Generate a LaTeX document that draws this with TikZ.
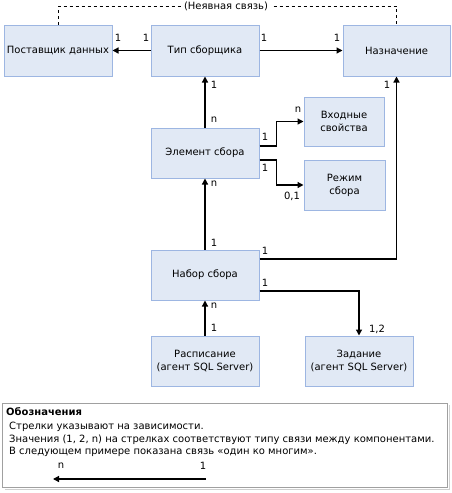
\documentclass[tikz,border=0pt]{standalone}
\usepackage{fontspec}
\setmainfont{DejaVu Sans}
\usetikzlibrary{arrows.meta}
\definecolor{boxfill}{HTML}{E1E9F5}
\definecolor{boxline}{HTML}{9DB6E2}
\definecolor{legline}{HTML}{A0A0A0}
\definecolor{legshadow}{HTML}{D0D0D0}
\tikzset{
  ent/.style={draw=boxline, fill=boxfill, line width=1pt, inner sep=0pt, align=center, font=\fontsize{10}{13}\selectfont},
  arr/.style={line width=1.3pt, -{Triangle[length=6pt,width=6pt]}},
  lbl/.style={inner sep=0pt, font=\fontsize{10}{12}\selectfont},
  legtxt/.style={inner sep=0pt, anchor=west, font=\fontsize{10}{12}\selectfont},
}
\begin{document}
\begin{tikzpicture}[x=1pt,y=-1pt]
\useasboundingbox (0,0) rectangle (451,493);
% boxes
\node[ent, minimum width=108pt, minimum height=51pt] (pd) at (58,50.5) {Поставщик данных};
\node[ent, minimum width=108pt, minimum height=51pt] (ts) at (205,50.5) {Тип сборщика};
\node[ent, minimum width=107pt, minimum height=51pt] (nz) at (396.5,50.5) {Назначение};
\node[ent, minimum width=108pt, minimum height=50pt] (el) at (205,153) {Элемент сбора};
\node[ent, minimum width=80pt, minimum height=49pt] (vs) at (344,121.5) {Входные\\свойства};
\node[ent, minimum width=81pt, minimum height=50pt] (rs) at (344.5,185) {Режим\\сбора};
\node[ent, minimum width=108pt, minimum height=50pt] (nb) at (205,275) {Набор сбора};
\node[ent, minimum width=108pt, minimum height=50pt] (rp) at (205,361) {Расписание\\(агент SQL Server)};
\node[ent, minimum width=108pt, minimum height=50pt] (zd) at (359,361) {Задание\\(агент SQL Server)};
% dashed implicit link
\coordinate (dl) at (58,6);
\coordinate (dr) at (396.5,6);
\draw[line width=1pt, dash pattern=on 3pt off 3pt] (pd.north) -- (dl) -- (dr) -- (nz.north);
\node[lbl, fill=white, inner xsep=3pt, inner ysep=1pt] (impl) at (226,6) {(Неявная связь)};
% connectors
\draw[arr] (ts.west) -- (pd.east);
\draw[arr] (ts.east) -- (nz.west);
\draw[arr] (el.north) -- (ts.south);
\draw[arr] (nb.north) -- (el.south);
\draw[arr] (rp.north) -- (nb.south);
\draw[arr] ([yshift=7pt]el.east) -- ++(17,0) |- (vs.west);
\draw[arr] ([yshift=-7pt]el.east) -- ++(17,0) |- (rs.west);
\draw[arr] ([yshift=16pt]nb.east) -| (nz.south);
\draw[arr] ([yshift=-16pt]nb.east) -| (zd.north);
% multiplicity labels
\node[lbl] (l1) at (118,38) {1};
\node[lbl] (l2) at (146,38) {1};
\node[lbl] (l3) at (264,38) {1};
\node[lbl] (l4) at (337,38) {1};
\node[lbl] (l5) at (214,85) {1};
\node[lbl] (l6) at (214,120) {n};
\node[lbl] (l7) at (298,110) {n};
\node[lbl] (l8) at (265,137) {1};
\node[lbl] (l9) at (265,168) {1};
\node[lbl] (l10) at (292,196) {0,1};
\node[lbl] (l11) at (214,184) {n};
\node[lbl] (l12) at (387,85) {1};
\node[lbl] (l13) at (214,243) {1};
\node[lbl] (l14) at (265,251) {1};
\node[lbl] (l15) at (265,283) {1};
\node[lbl] (l16) at (377,329) {1,2};
\node[lbl] (l17) at (214,306) {n};
\node[lbl] (l18) at (214,328) {1};
% legend
\draw[legshadow, line width=1pt] (4.5,489.5) -- (449.5,489.5) -- (449.5,405);
\draw[legline, line width=1pt, fill=white] (2,403) rectangle (447,487);
\node[legtxt, font=\fontsize{10}{12}\selectfont\bfseries] (lt) at (6,412) {Обозначения};
\node[legtxt] (lg1) at (9,427) {Стрелки указывают на зависимости.};
\node[legtxt] (lg2) at (9,440) {Значения (1, 2, n) на стрелках соответствуют типу связи между компонентами.};
\node[legtxt] (lg3) at (9,452) {В следующем примере показана связь «один ко многим».};
\coordinate (la) at (206,479);
\coordinate (lb) at (53,479);
\draw[arr] (la) -- (lb);
\node[lbl] (ln) at (61,466) {n};
\node[lbl] (l1b) at (203,466) {1};
\end{tikzpicture}
\end{document}
